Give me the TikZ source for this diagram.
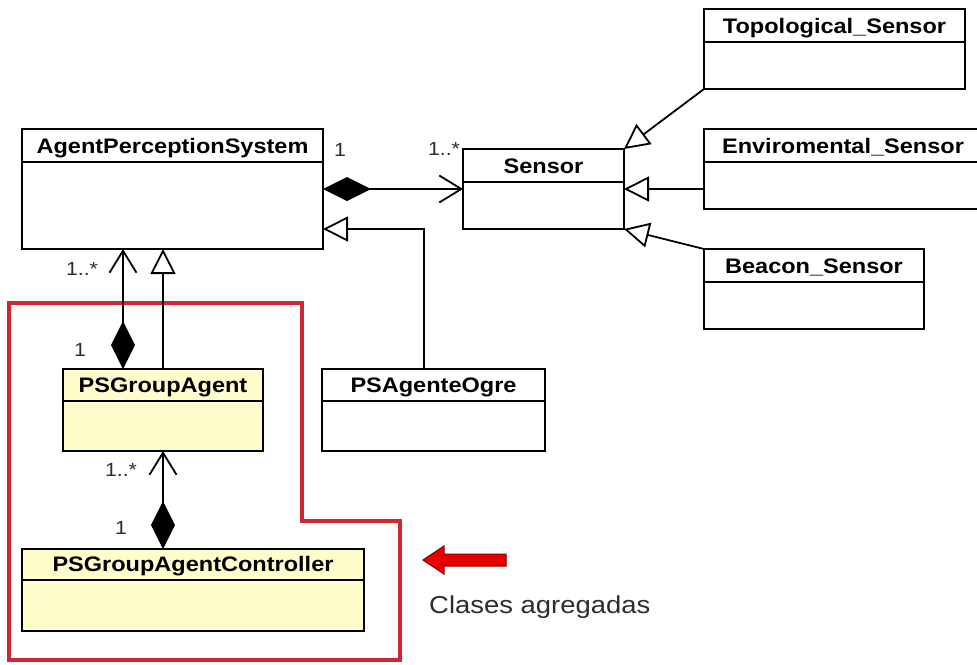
\documentclass[tikz,border=0pt]{standalone}
\usepackage{fontspec}
\setmainfont{Liberation Sans}
\newfontfamily\umlfont[FakeStretch=1.12]{Liberation Sans}
\usetikzlibrary{arrows.meta}

\definecolor{classfill}{RGB}{255,253,204}
\definecolor{framered}{RGB}{205,40,52}
\definecolor{arrowred}{RGB}{232,0,0}
\definecolor{arrowedge}{RGB}{140,0,0}
\definecolor{labelgray}{RGB}{45,45,45}

\tikzset{
  classbox/.style={draw=black, line width=2pt, inner sep=0pt, outer sep=0pt},
  classline/.style={line width=2pt},
  classtitle/.style={font=\umlfont\bfseries\fontsize{21}{24}\selectfont, inner sep=0pt, text=black, anchor=base},
  mult/.style={font=\umlfont\fontsize{19}{22}\selectfont, text=labelgray, inner sep=0pt},
  link/.style={line width=1.8pt},
  comp/.style={link, {Diamond[length=48pt,width=24pt]}-{Straight Barb[length=22pt,width=27pt]}},
  gen/.style={link, -{Triangle[open,length=25pt,width=25pt,fill=white]}},
  redframe/.style={draw=framered, line width=4.5pt, line join=miter},
  note/.style={font=\umlfont\fontsize{24.5}{28}\selectfont, text=labelgray, inner sep=0pt, anchor=base west},
}

% #1 name, #2 left, #3 top, #4 right, #5 bottom, #6 header line, #7 title, #8 fill
\newcommand{\umlclass}[8]{%
  \node[classbox, fill=#8, minimum width={#4-#2}, minimum height={#5-#3}]
    (#1) at ({(#2+#4)/2},{(#3+#5)/2}) {};
  \draw[classline] (#2,#6) -- (#4,#6);
  \node[classtitle] (#1-title) at ({(#2+#4)/2},{#6-8.5}) {#7};
}

\begin{document}
\begin{tikzpicture}[x=1pt,y=-1pt]
  \fill[white] (0,0) rectangle (977,664);
  \useasboundingbox (0,0) rectangle (977,664);

  % highlighted group of aggregated classes
  \draw[redframe] (9,303) -- (302,303) -- (302,521) -- (400,521) -- (400,660) -- (9,660) -- cycle;

  % classes
  \umlclass{aps}{22}{129}{323}{249}{162}{AgentPerceptionSystem}{white}
  \umlclass{sensor}{463}{149}{624}{229}{182}{Sensor}{white}
  \umlclass{topo}{704}{9}{965}{89}{42}{Topological\_Sensor}{white}
  \umlclass{env}{704}{129}{982}{209}{162}{Enviromental\_Sensor}{white}
  \umlclass{beacon}{704}{249}{924}{329}{282}{Beacon\_Sensor}{white}
  \umlclass{ga}{63}{369}{263}{451}{401}{PSGroupAgent}{classfill}
  \umlclass{ogre}{322}{369}{545}{451}{401}{PSAgenteOgre}{white}
  \umlclass{ctrl}{22}{549}{364}{631}{580}{PSGroupAgentController}{classfill}

  % composition associations
  \draw[comp] (aps.east) -- (sensor.west);
  \draw[comp] ([xshift=-40pt]ga.north) -- ([xshift=-40pt]ga.north |- aps.south);
  \draw[comp] (ga.south |- ctrl.north) -- (ga.south);

  % generalizations
  \draw[gen] (topo.south west) -- (sensor.north east);
  \draw[gen] (env.west |- sensor.east) -- (sensor.east);
  \draw[gen] (beacon.north west) -- (sensor.south east);
  \draw[gen] (ga.north) -- (ga.north |- aps.south);
  \draw[gen] ([xshift=-9.5pt]ogre.north) |- ([yshift=-40pt]aps.east);

  % multiplicities
  \node[mult] (m-aps) at (340,150) {1};
  \node[mult] (m-sensor) at (444,149) {1..*};
  \node[mult] (m-apsbottom) at (82,269) {1..*};
  \node[mult] (m-ga) at (80,350) {1};
  \node[mult] (m-gabottom) at (121,470) {1..*};
  \node[mult] (m-ctrl) at (121,528) {1};

  % pointer and caption
  \filldraw[fill=arrowred, draw=arrowedge, line width=1pt, line join=miter]
    (423,560) -- (444,546) -- (444,554) -- (506,554) -- (506,566) -- (444,566) -- (444,574) -- cycle;
  \node[note] (caption) at (429,613) {Clases agregadas};
\end{tikzpicture}
\end{document}
